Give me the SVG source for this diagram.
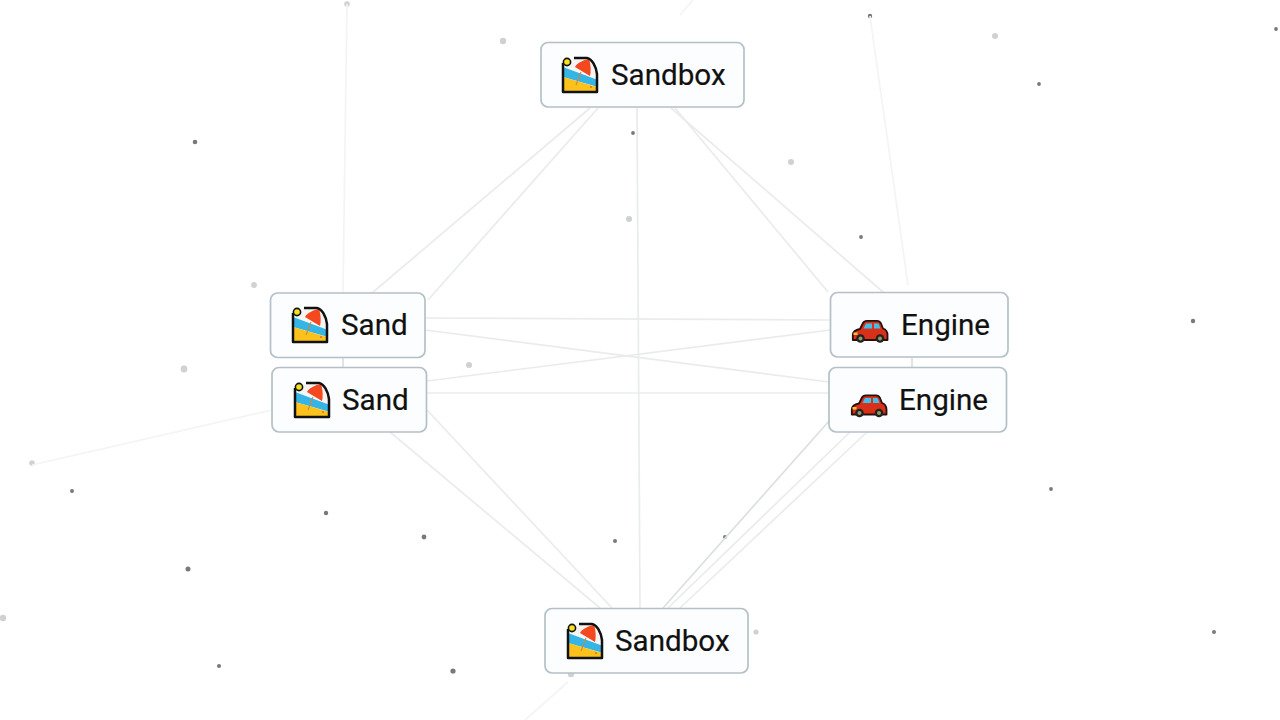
<svg xmlns="http://www.w3.org/2000/svg" width="1280" height="720" viewBox="0 0 1280 720">
<style>
.box{fill:#fbfdfe;stroke:#b4c0c8;stroke-width:1.7}
.t{font-family:Roboto,"Liberation Sans",sans-serif;font-size:29.6px;fill:#111;stroke:#111;stroke-width:.2}
.c line{stroke:#e9ebed;stroke-width:1.7;fill:none}
.c .f{stroke:#f3f4f5}
.c .d{stroke:#dcdfe2}
.p circle{fill:#77797b}
.p .l{fill:#cfd1d2}
</style>
<defs>
<filter id="soft" x="-5%" y="-5%" width="110%" height="110%"><feGaussianBlur stdDeviation="0.55"/></filter>
<symbol id="beach" viewBox="0 0 36 36" overflow="visible">
<path d="M1 6V35H35V17C34 9 30 2 25 1H12Z" fill="#f7f7f7"/>
<path d="M1 10L36 23V30L1 20Z" fill="#35b4e6"/>
<path d="M1 20L35 30V35H1Z" fill="#fcc21b"/>
<path d="M7 9C9 4 17 1 24 1C31 3 34 11 35 20C27 17 15 12 7 9Z" fill="#f6f3f1"/>
<path d="M13 10C15 6 21 3 27 2C29 8 29 15 28 19Z" fill="#f4481e"/>
<path d="M19 15L14 28" stroke="#c98a3b" stroke-width="1.1" fill="none"/>
<circle cx="29" cy="30" r="1" fill="#f4681e"/>
<path d="M1 6V35H35V17C34 9 30 2 25 1H12" fill="none" stroke="#111" stroke-width="2.5" stroke-linejoin="round"/>
<circle cx="5" cy="5" r="3.6" fill="#f7e01f" stroke="#111" stroke-width="1.6"/>
</symbol>
<symbol id="car" viewBox="0 0 36 23" overflow="visible">
<path d="M.8 15C.8 11.500 3 10 8 9L11 3C12 1 13 .8 15 .8H25C27 .8 28 1.500 29 3.500L31 8.500C34 9.500 35.500 11.500 35.500 15V20H.8Z" fill="#d9301a" stroke="#2a100c" stroke-width="1.8" stroke-linejoin="round"/>
<path d="M11.500 8.500L14 3.500H20V8.500Z M22 3.500H26.500L28.500 8.500H22Z" fill="#42bfe6"/>
<rect x="1.500" y="12.500" width="4" height="2.500" fill="#f9c23c"/>
<g fill="#222"><circle cx="8.500" cy="18.500" r="4.300"/><circle cx="28" cy="18.500" r="4.300"/></g>
<g fill="#8f9c63"><circle cx="8.500" cy="18.500" r="2"/><circle cx="28" cy="18.500" r="2"/></g>
</symbol>
</defs>
<rect width="1280" height="720" fill="#fff"/>
<g id="particles" class="p" filter="url(#soft)">
<circle class="l" cx="347" cy="4" r="2.800"/><circle class="l" cx="503" cy="41" r="3.200"/><circle cx="870" cy="16" r="2.200"/><circle class="l" cx="995" cy="36" r="3"/><circle cx="1039" cy="84" r="1.900"/><circle cx="1276" cy="29" r="1.900"/><circle cx="195" cy="142" r="2.300"/><circle cx="633" cy="133" r="1.900"/><circle class="l" cx="791" cy="162" r="3"/><circle cx="861" cy="237" r="1.900"/><circle class="l" cx="629" cy="219" r="3"/><circle class="l" cx="254" cy="285" r="2.900"/><circle cx="1193" cy="321" r="2.200"/><circle class="l" cx="184" cy="369" r="3.400"/><circle class="l" cx="469" cy="365" r="3"/><circle class="l" cx="32" cy="463" r="2.800"/><circle cx="72" cy="491" r="2"/><circle cx="326" cy="513" r="2.200"/><circle cx="424" cy="537" r="2.400"/><circle cx="1051" cy="489" r="1.900"/><circle cx="615" cy="541" r="2"/><circle cx="725" cy="537" r="2"/><circle cx="188" cy="569" r="2.500"/><circle class="l" cx="3" cy="618" r="3.200"/><circle cx="219" cy="666" r="2"/><circle cx="453" cy="671" r="2.600"/><circle class="l" cx="756" cy="632" r="2.600"/><circle cx="1214" cy="632" r="2"/><circle class="l" cx="571" cy="674" r="3.200"/>
</g>
<g id="connectors" class="c" filter="url(#soft)">
<line class="f" x1="343" y1="293" x2="347" y2="4"/>
<line class="f" x1="908" y1="285" x2="870" y2="16"/>
<line class="f" x1="272" y1="410" x2="32" y2="465"/>
<line class="f" x1="693" y1="0" x2="680" y2="15"/>
<line class="f" x1="568" y1="682" x2="525" y2="720"/>
<line x1="590" y1="108" x2="372" y2="293"/>
<line x1="598" y1="108" x2="428" y2="300"/>
<line x1="671" y1="108" x2="883" y2="292"/>
<line x1="675" y1="108" x2="828" y2="292"/>
<line x1="637" y1="108" x2="640" y2="608"/>
<line x1="425" y1="318" x2="830" y2="320"/>
<line x1="425" y1="330" x2="829" y2="382"/>
<line x1="427" y1="393" x2="829" y2="393"/>
<line x1="427" y1="381" x2="830" y2="330"/>
<line class="d" x1="343" y1="358" x2="343" y2="367"/>
<line class="d" x1="912" y1="357" x2="912" y2="367"/>
<line x1="427" y1="410" x2="612" y2="608"/>
<line x1="390" y1="432" x2="600" y2="608"/>
<line class="d" x1="830" y1="420" x2="663" y2="608"/>
<line x1="867" y1="432" x2="680" y2="608"/>
<line x1="850" y1="432" x2="668" y2="608"/>
</g>
<g id="node-sandbox-top"><rect class="box" x="541" y="42.500" width="203" height="64.500" rx="7"/><use href="#beach" x="562" y="57" width="36" height="36"/><text class="t" x="611" y="84.500">Sandbox</text></g>
<g id="node-sand-1"><rect class="box" x="270.500" y="293" width="154.500" height="64.500" rx="7"/><use href="#beach" x="292" y="307" width="36" height="36"/><text class="t" x="341" y="334.500">Sand</text></g>
<g id="node-sand-2"><rect class="box" x="272" y="367.500" width="154.500" height="64.500" rx="7"/><use href="#beach" x="294" y="382" width="36" height="36"/><text class="t" x="342" y="409.500">Sand</text></g>
<g id="node-engine-1"><rect class="box" x="830.500" y="292.500" width="177.500" height="64.500" rx="7"/><use href="#car" x="852" y="320" width="36" height="23"/><text class="t" x="901" y="334.500">Engine</text></g>
<g id="node-engine-2"><rect class="box" x="829" y="367.500" width="177.500" height="64.500" rx="7"/><use href="#car" x="851" y="394.500" width="36" height="23"/><text class="t" x="899" y="409.500">Engine</text></g>
<g id="node-sandbox-bottom"><rect class="box" x="545" y="608.500" width="203" height="64.500" rx="7"/><use href="#beach" x="567" y="623" width="36" height="36"/><text class="t" x="615" y="650.500">Sandbox</text></g>
</svg>
